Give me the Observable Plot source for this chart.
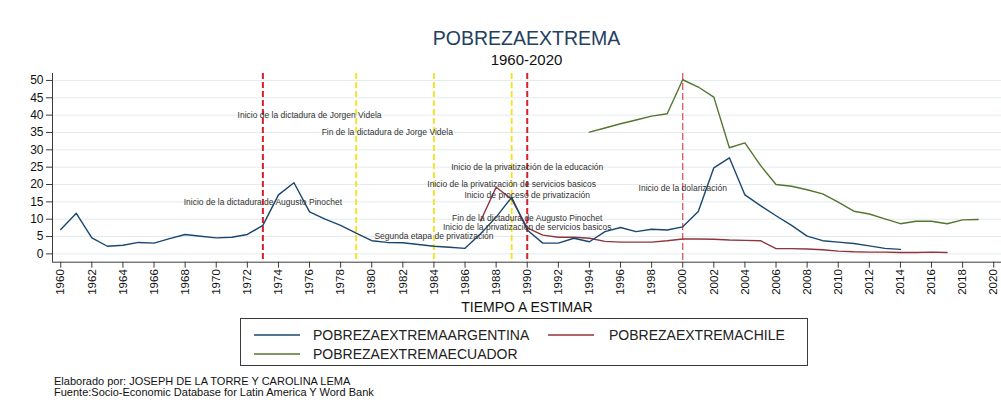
<!DOCTYPE html>
<html>
<head>
<meta charset="utf-8">
<script src="https://cdn.jsdelivr.net/npm/d3@7"></script>
<script src="https://cdn.jsdelivr.net/npm/@observablehq/plot@0.6"></script>
<style>
  html, body { margin: 0; padding: 0; background: #fff; }
  body { width: 1001px; height: 405px; overflow: hidden; position: relative; font-family: "Liberation Sans", Arial, sans-serif; }
  #title { position: absolute; top: 26px; left: 52px; width: 949px; text-align: center; font-size: 19.5px; line-height: 24px; color: #24405f; }
  #subtitle { position: absolute; top: 51px; left: 52px; width: 949px; text-align: center; font-size: 15px; line-height: 18px; color: #111; }
  #chart { position: absolute; top: 65px; left: 0; }
  #legend { position: absolute; left: 240px; top: 318px; }
  #notes { position: absolute; left: 54px; top: 376px; font-size: 11px; line-height: 10.8px; color: #111; white-space: nowrap; }
</style>
</head>
<body>
<div id="title"></div>
<div id="subtitle"></div>
<div id="chart"></div>
<div id="legend"></div>
<div id="notes"></div>
<script>
// ---- Data ----
const titleText = "POBREZAEXTREMA";
const subtitleText = "1960-2020";
const xTitle = "TIEMPO A ESTIMAR";
const noteLines = [
  "Elaborado por: JOSEPH DE LA TORRE Y CAROLINA LEMA",
  "Fuente:Socio-Economic Database for Latin America Y Word Bank"
];

const seriesNames = ["POBREZAEXTREMAARGENTINA", "POBREZAEXTREMACHILE", "POBREZAEXTREMAECUADOR"];
const seriesColors = ["#1a476f", "#90353b", "#55752f"];

const argYears = [1960,1961,1962,1963,1964,1965,1966,1967,1968,1969,1970,1971,1972,1973,1974,1975,1976,1977,1978,1979,
  1980,1981,1982,1983,1984,1985,1986,1987,1988,1989,1990,1991,1992,1993,1994,1995,1996,1997,1998,1999,
  2000,2001,2002,2003,2004,2005,2006,2007,2008,2009,2010,2011,2012,2013,2014];
const argValues = [7.0,11.7,4.6,2.2,2.5,3.3,3.1,4.4,5.6,5.1,4.6,4.8,5.6,8.2,17.0,20.5,12.1,10.0,8.2,6.0,
  3.8,3.3,3.2,2.7,2.2,1.9,1.6,5.8,10.6,16.3,6.9,3.1,3.1,4.5,3.5,6.4,7.6,6.4,7.1,6.9,
  7.8,12.2,24.8,27.7,17.0,13.9,11.0,8.2,5.1,3.8,3.4,3.0,2.3,1.6,1.3];

const chiYears = [1987,1988,1989,1990,1991,1992,1993,1994,1995,1996,1997,1998,1999,
  2000,2001,2002,2003,2004,2005,2006,2007,2008,2009,2010,2011,2012,2013,2014,2015,2016,2017];
const chiValues = [9.5,19.2,15.8,7.5,5.4,4.8,4.8,4.5,3.6,3.4,3.4,3.4,3.8,
  4.3,4.3,4.2,4.0,3.9,3.8,1.5,1.5,1.4,1.2,0.8,0.6,0.5,0.5,0.4,0.4,0.5,0.4];

const ecuYears = [1994,1995,1996,1997,1998,1999,2000,2001,2002,2003,2004,2005,2006,2007,2008,2009,
  2010,2011,2012,2013,2014,2015,2016,2017,2018,2019];
const ecuValues = [35.1,36.3,37.5,38.6,39.7,40.4,50.2,48.1,45.2,30.6,32.0,25.5,20.0,19.5,18.5,17.3,
  14.9,12.3,11.5,10.1,8.7,9.4,9.4,8.7,9.8,9.9];

// vertical reference lines
const redLineYears = [1973, 1990];
const yellowLineYears = [1979, 1984, 1989];
const thinRedLineYears = [2000];

// annotations
const annoText = [
  "Inicio de la dictadura de Jorgen Videla",
  "Fin de la dictadura de Jorge Videla",
  "Inicio de la dictadura de Augusto Pinochet",
  "Segunda etapa de privatización",
  "Inicio de la privatización de la educación",
  "Inicio de la privatización de servicios basicos",
  "Inicio de proceso de privatización",
  "Fin de la dictadura de Augusto Pinochet",
  "Inicio de la privatización de servicios basicos",
  "Inicio de la dolarización"
];
const annoX = [1976, 1981, 1973, 1984, 1990, 1989, 1990, 1990, 1990, 2000];
const annoY = [40, 35, 15, 5, 25, 20, 16.9, 10.4, 7.8, 19];

const xTicks = [1960,1962,1964,1966,1968,1970,1972,1974,1976,1978,1980,1982,1984,1986,1988,1990,
  1992,1994,1996,1998,2000,2002,2004,2006,2008,2010,2012,2014,2016,2018,2020];
const yTicks = [0,5,10,15,20,25,30,35,40,45,50];

// ---- Build tables ----
const mk = (ys, vs) => ys.map((y, i) => ({year: y, value: vs[i]}));
const arg = mk(argYears, argValues);
const chi = mk(chiYears, chiValues);
const ecu = mk(ecuYears, ecuValues);
const annos = annoText.map((t, i) => ({text: t, x: annoX[i], y: annoY[i]}));

const xDomain = [1959.47, 2020.5];
const yDomain = [-2.4, 52];

document.getElementById("title").textContent = titleText;
document.getElementById("subtitle").textContent = subtitleText;

const chart = Plot.plot({
  width: 1001,
  height: 250,
  marginTop: 8,
  marginBottom: 53.3,
  marginLeft: 52,
  marginRight: 0,
  style: {fontFamily: "'Liberation Sans', Arial, sans-serif", background: "transparent", color: "#222", overflow: "visible"},
  x: {domain: xDomain},
  y: {domain: yDomain},
  marks: [
    Plot.gridY(yTicks, {stroke: "#e3ebee", strokeOpacity: 1, strokeWidth: 1}),
    Plot.ruleX(yellowLineYears, {stroke: "#f2e21c", strokeWidth: 1.8, strokeDasharray: "6,3"}),
    Plot.ruleX(redLineYears, {stroke: "#d8202b", strokeWidth: 2, strokeDasharray: "6,3"}),
    Plot.ruleX(thinRedLineYears, {stroke: "#e0454f", strokeWidth: 1.2, strokeDasharray: "7,3"}),
    Plot.lineY(ecu, {x: "year", y: "value", stroke: seriesColors[2], strokeWidth: 1.4}),
    Plot.lineY(chi, {x: "year", y: "value", stroke: seriesColors[1], strokeWidth: 1.4}),
    Plot.lineY(arg, {x: "year", y: "value", stroke: seriesColors[0], strokeWidth: 1.4}),
    Plot.text(annos, {x: "x", y: "y", text: "text", fontSize: 8.5, fill: "#333", textAnchor: "middle"}),
    Plot.ruleX([xDomain[0]], {stroke: "#3a3a3a", strokeWidth: 1}),
    Plot.ruleY([yDomain[0]], {stroke: "#3a3a3a", strokeWidth: 1}),
    Plot.axisY(yTicks, {tickSize: 6, tickPadding: 3, fontSize: 12, label: null, stroke: "#3a3a3a", fill: "#111"}),
    Plot.axisX(xTicks, {tickSize: 6, tickPadding: 1, tickRotate: -90, fontSize: 11.5, label: null, stroke: "#3a3a3a", fill: "#111", tickFormat: d => String(d)}),
    Plot.text([xTitle], {frameAnchor: "bottom", dy: 50, fontSize: 14, fill: "#111"})
  ]
});
document.getElementById("chart").appendChild(chart);

// legend (plain SVG box)
const legendPos = [
  {lx: 14, tx: 73, cy: 17},
  {lx: 308, tx: 369, cy: 17},
  {lx: 14, tx: 73, cy: 36}
];
const lw = 568, lh = 48;
const ns = "http://www.w3.org/2000/svg";
const lsvg = document.createElementNS(ns, "svg");
lsvg.setAttribute("width", lw);
lsvg.setAttribute("height", lh);
const box = document.createElementNS(ns, "rect");
box.setAttribute("x", 0.5); box.setAttribute("y", 0.5);
box.setAttribute("width", lw - 1); box.setAttribute("height", lh - 1);
box.setAttribute("fill", "#fff"); box.setAttribute("stroke", "#3a3a3a");
lsvg.appendChild(box);
seriesNames.forEach((name, i) => {
  const p = legendPos[i];
  const ln = document.createElementNS(ns, "line");
  ln.setAttribute("x1", p.lx); ln.setAttribute("x2", p.lx + 46);
  ln.setAttribute("y1", p.cy); ln.setAttribute("y2", p.cy);
  ln.setAttribute("stroke", seriesColors[i]); ln.setAttribute("stroke-width", 1.5);
  lsvg.appendChild(ln);
  const tx = document.createElementNS(ns, "text");
  tx.setAttribute("x", p.tx); tx.setAttribute("y", p.cy);
  tx.setAttribute("dy", "0.35em");
  tx.setAttribute("font-size", 14);
  tx.setAttribute("font-family", "'Liberation Sans', Arial, sans-serif");
  tx.setAttribute("fill", "#222");
  tx.textContent = name;
  lsvg.appendChild(tx);
});
document.getElementById("legend").appendChild(lsvg);

document.getElementById("notes").innerHTML = noteLines.map(s => `<div>${s}</div>`).join("");
</script>
</body>
</html>
